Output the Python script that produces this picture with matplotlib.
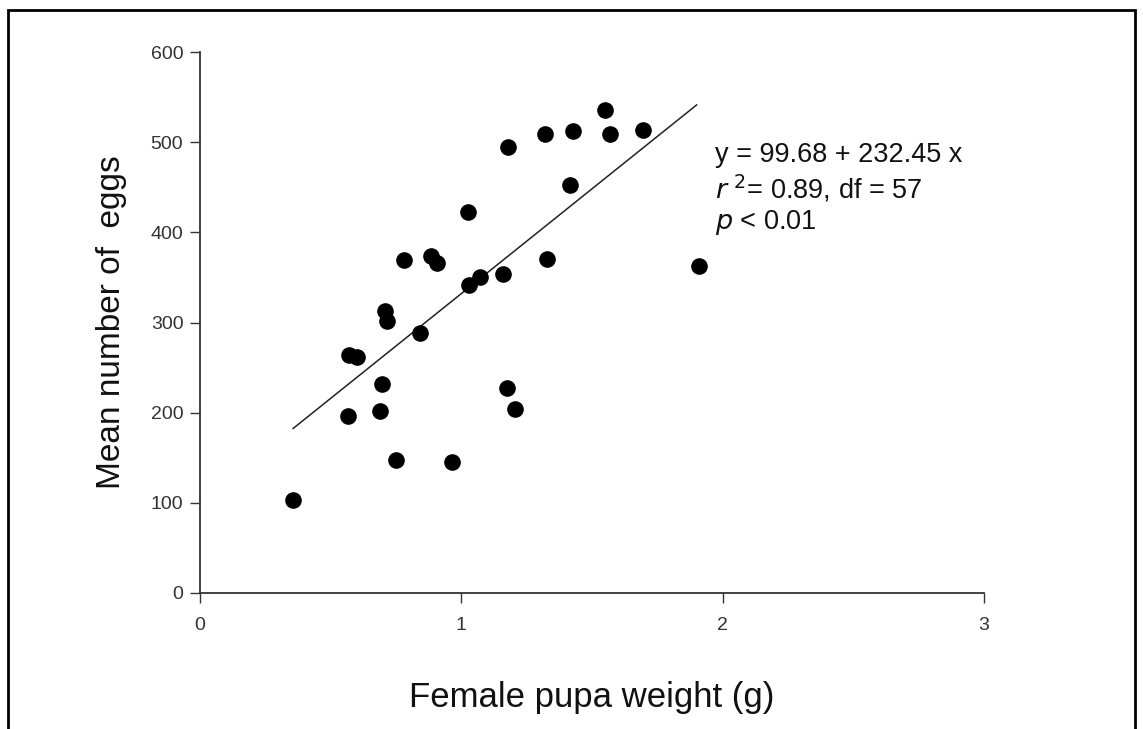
import matplotlib
matplotlib.use("Agg")
import matplotlib.pyplot as plt
from matplotlib.patches import Rectangle
import numpy as np

plt.rcParams['font.family'] = ['Liberation Sans', 'DejaVu Sans']

# female pupa weight (g) and mean number of eggs
weight = [0.356, 0.566, 0.570, 0.600, 0.690, 0.697, 0.708, 0.716, 0.750, 0.780,
          0.842, 0.884, 0.907, 0.964, 1.026, 1.030, 1.070, 1.160, 1.175, 1.205,
          1.180, 1.320, 1.327, 1.427, 1.416, 1.550, 1.569, 1.695, 1.910]
eggs = [103, 196, 264, 262, 202, 232, 313, 302, 147, 369,
        288, 374, 366, 145, 423, 342, 350, 354, 227, 204,
        495, 509, 370, 512, 452, 536, 509, 513, 363]

# fitted line y = a + b x
a, b = 99.68, 232.45
fit_x = np.array([0.356, 1.90])

x_ticks = [0, 1, 2, 3]
y_ticks = [0, 100, 200, 300, 400, 500, 600]

fig = plt.figure(figsize=(11.43, 7.29), dpi=100)
ax = fig.add_axes([0.175, 0.1866, 0.686, 0.742])

ax.scatter(weight, eggs, s=120, color='black', zorder=3)
ax.plot(fit_x, a + b * fit_x, color='#222222', lw=1.1)

ax.set_xlim(0, 3)
ax.set_ylim(0, 600)
ax.set_xticks(x_ticks)
ax.set_yticks(y_ticks)
ax.tick_params(labelsize=14, colors='#333333', length=7, width=1)
ax.tick_params(axis='x', pad=10)
ax.tick_params(axis='y', pad=5)
for s in ['top', 'right']:
    ax.spines[s].set_visible(False)
for s in ['left', 'bottom']:
    ax.spines[s].set_color('#333333')
    ax.spines[s].set_linewidth(1.3)

ax.set_xlabel('Female pupa weight (g)', fontsize=25, labelpad=34, color='#111111')
ax.set_ylabel('Mean number of  eggs', fontsize=24, labelpad=17, color='#111111')

ax.text(0.657, 0.746, 'y = 99.68 + 232.45 x\n$r$ $^2$= 0.89, df = 57\n$p$ < 0.01',
        transform=ax.transAxes, fontsize=19.5, va='center', ha='left',
        linespacing=1.2, color='#111111')

# frame of the scanned figure
fig.patches.append(Rectangle((0.007, -0.05), 0.986, 1.036, transform=fig.transFigure,
                             fill=False, edgecolor='black', lw=2))

fig.savefig('out.png', dpi=100)
